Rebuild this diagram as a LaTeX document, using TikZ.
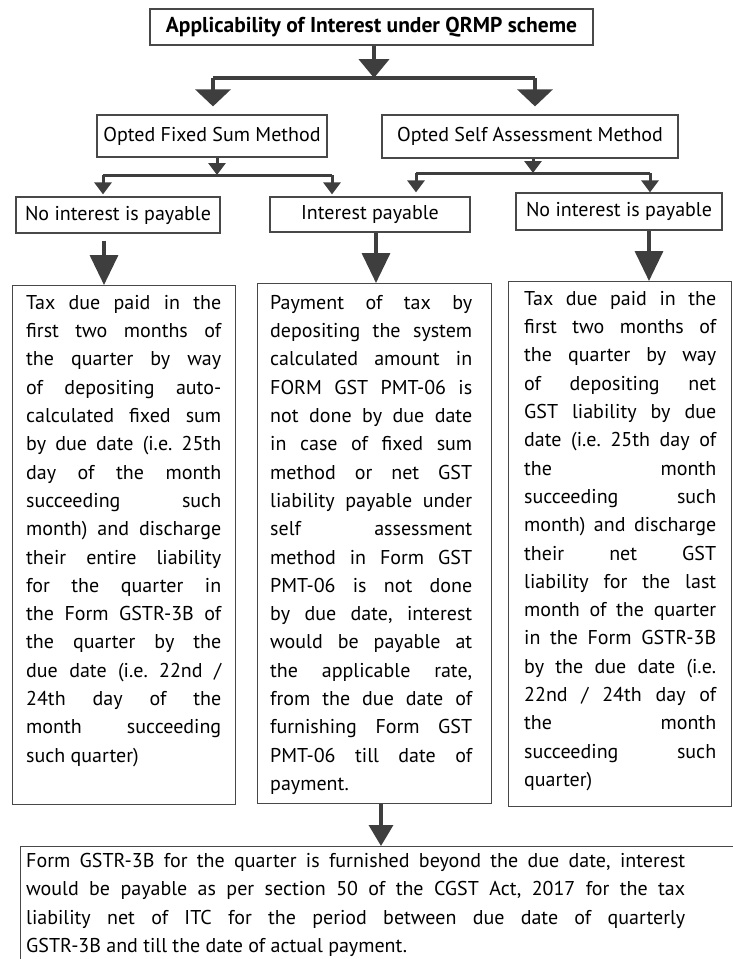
\documentclass[tikz,border=0pt]{standalone}
\usepackage{fontspec}
\setmainfont{PT Sans}
\usetikzlibrary{arrows.meta,positioning}
\frenchspacing
\hyphenpenalty=10000
\exhyphenpenalty=10000
\tolerance=10000
\definecolor{ArrowGray}{RGB}{62,62,62}
\definecolor{FrameGray}{RGB}{72,72,72}
\tikzset{
  hbox/.style={draw=FrameGray,line width=1.2pt,inner sep=0pt,
               font=\fontsize{20}{24}\selectfont,text centered},
  tbox/.style={hbox,font=\fontsize{21.5}{24}\selectfont\bfseries},
  frame/.style={draw=FrameGray,line width=1.2pt,inner sep=0pt,anchor=north west},
  para/.style={inner sep=0pt,align=justify,anchor=north west,
               font=\fontsize{20}{28.3}\selectfont},
  barline/.style={ArrowGray,line width=3.5pt},
  bigarr/.style={-{Triangle[length=19pt,width=30pt]},ArrowGray,line width=4.5pt},
  midarr/.style={-{Triangle[length=17pt,width=35pt]},ArrowGray,line width=3.5pt},
  smallarr/.style={-{Triangle[length=12pt,width=17pt]},ArrowGray,line width=3pt},
  downarr/.style={-{Triangle[length=30pt,width=28pt]},ArrowGray,line width=3.5pt},
  lastarr/.style={-{Triangle[length=21pt,width=24pt]},ArrowGray,line width=3.5pt},
}

\begin{document}
\begin{tikzpicture}[x=1pt,y=-1pt]
  \useasboundingbox (0,0) rectangle (733,959);

  % top levels
  \node[tbox,minimum width=443pt,minimum height=36pt] (title) at (371.5,27) {Applicability of Interest under QRMP scheme};
  \node[hbox,minimum width=230pt,minimum height=42pt] (fixed) at (212,136) {Opted Fixed Sum Method};
  \node[hbox,minimum width=296pt,minimum height=43pt] (self) at (530,136.5) {Opted Self Assessment Method};

  \node[hbox,minimum width=204pt,minimum height=36pt] (noL) at (118,215) {No interest is payable};
  \node[hbox,minimum width=200pt,minimum height=35pt] (pay) at (370,214.5) {Interest payable};
  \node[hbox,minimum width=206pt,minimum height=37pt] (noR) at (619,211.5) {No interest is payable};

  % detail boxes
  \node[frame,minimum width=223pt,minimum height=519pt] (detL) at (12,285) {};
  \node[frame,minimum width=234pt,minimum height=520pt] (detM) at (257,283) {};
  \node[frame,minimum width=223pt,minimum height=525pt] (detR) at (508,281) {};
  \node[frame,minimum width=740pt,minimum height=140pt] (late) at (20,846) {};

  \node[para,text width=195pt] (txtL) at ([xshift=14pt,yshift=-10pt]detL.north west)
    {Tax due paid in the\linebreak first two months of\linebreak the quarter by way\linebreak of depositing auto-\linebreak calculated fixed sum\linebreak by due date (i.e. 25th\linebreak day of the month\linebreak succeeding such\linebreak month) and discharge\linebreak their entire liability\linebreak for the quarter in\linebreak the Form GSTR-3B of\linebreak the quarter by the\linebreak due date (i.e. 22nd /\linebreak 24th day of the\linebreak month succeeding\linebreak such quarter)};
  \node[para,text width=202pt] (txtM) at ([xshift=13pt,yshift=-12pt]detM.north west)
    {Payment of tax by\linebreak depositing the system\linebreak calculated amount in\linebreak FORM GST PMT-06 is\linebreak not done by due date\linebreak in case of fixed sum\linebreak method or net GST\linebreak liability payable under\linebreak self assessment\linebreak method in Form GST\linebreak PMT-06 is not done\linebreak by due date, interest\linebreak would be payable at\linebreak the applicable rate,\linebreak from the due date of\linebreak furnishing Form GST\linebreak PMT-06 till date of\linebreak payment.};
  \node[para,text width=192pt] (txtR) at ([xshift=16pt,yshift=-10pt]detR.north west)
    {Tax due paid in the\linebreak first two months of\linebreak the quarter by way\linebreak of depositing net\linebreak GST liability by due\linebreak date (i.e. 25th day of\linebreak the month\linebreak succeeding such\linebreak month) and discharge\linebreak their net GST\linebreak liability for the last\linebreak month of the quarter\linebreak in the Form GSTR-3B\linebreak by the due date (i.e.\linebreak 22nd / 24th day of\linebreak the month\linebreak succeeding such\linebreak quarter)};
  \node[para,text width=659pt] (txtB) at ([xshift=6pt,yshift=-7pt]late.north west)
    {Form GSTR-3B for the quarter is furnished beyond the due date, interest\linebreak would be payable as per section 50 of the CGST Act, 2017 for the tax\linebreak liability net of ITC for the period between due date of quarterly\linebreak GSTR-3B and till the date of actual payment.};

  % branch points
  \coordinate (tbar) at (374,78);
  \coordinate (bL) at (213,78);
  \coordinate (bR) at (535,78);
  \coordinate (fbar) at (217,175);
  \coordinate (fL) at (103,175);
  \coordinate (fR) at (332,175);
  \coordinate (sbar) at (533,173);
  \coordinate (sL) at (416,173);
  \coordinate (sR) at (650,173);

  \draw[bigarr] (title.south -| tbar) -- (tbar);
  \draw[barline] (bL) -- (bR);
  \draw[midarr,shorten >=8pt] (bL) -- (bL |- fixed.north);
  \draw[midarr,shorten >=8pt] (bR) -- (bR |- self.north);

  \draw[smallarr] (fixed.south -| fbar) -- (fbar);
  \draw[barline,line width=3pt] (fL) -- (fR);
  \draw[smallarr,shorten >=2pt] (fL) -- (fL |- noL.north);
  \draw[smallarr,shorten >=2pt] (fR) -- (fR |- pay.north);

  \draw[smallarr] (self.south -| sbar) -- (sbar);
  \draw[barline,line width=3pt] (sL) -- (sR);
  \draw[smallarr,shorten >=4pt] (sL) -- (sL |- pay.north);
  \draw[smallarr] (sR) -- (sR |- noR.north);

  \draw[downarr,shorten <=7pt] (noL.south -| 104,0) -- (104,0 |- detL.north);
  \draw[downarr] (pay.south -| 376,0) -- (376,0 |- detM.north);
  \draw[downarr] (noR.south -| 649,0) -- (649,0 |- detR.north);

  \draw[lastarr] (detM.south -| 381,0) -- (381,0 |- late.north);
\end{tikzpicture}
\end{document}
